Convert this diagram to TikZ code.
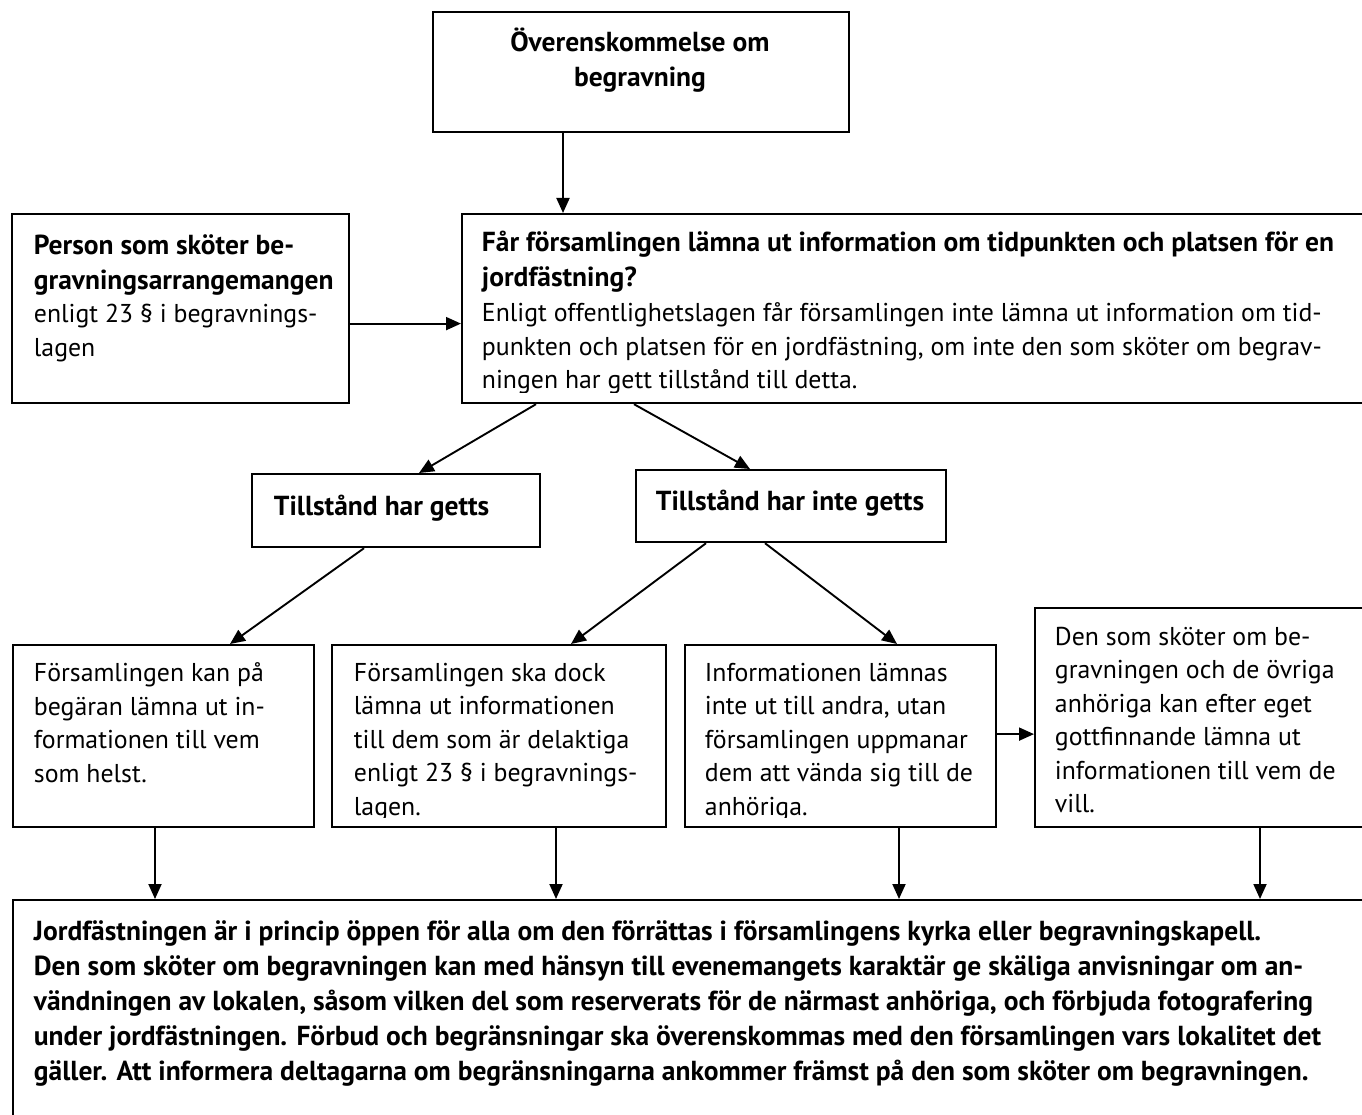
\documentclass[tikz,border=0pt]{standalone}
\usepackage{fontspec}
\setmainfont{PT Sans}
\usepackage{tikz}
\usetikzlibrary{arrows.meta, positioning}

\newcommand\boldline[1]{{\fontsize{27.5}{35}\selectfont\bfseries #1}}

\begin{document}
\begin{tikzpicture}[x=1pt,y=-1pt,->,>={Triangle[length=15pt,width=13pt]},
  line width=1.9pt,
  frame/.style={draw,line width=2.2pt,anchor=north west,inner sep=0pt,-},
  body/.style={anchor=north west,inner sep=0pt,align=left,
    font=\fontsize{25.8}{33.5}\selectfont},
  head/.style={body,font=\fontsize{27.5}{35}\selectfont\bfseries}]

  \useasboundingbox (0,0) rectangle (1362,1115);

  % boxes
  \node[frame,minimum width=416pt,minimum height=120pt] (agree) at (432,11) {};
  \node[frame,minimum width=337pt,minimum height=189pt] (person) at (11,213) {};
  \node[frame,minimum width=960pt,minimum height=189pt] (query) at (461,213) {};
  \node[frame,minimum width=288pt,minimum height=73pt] (given) at (251,473) {};
  \node[frame,minimum width=310pt,minimum height=72pt] (denied) at (635,469) {};
  \node[frame,minimum width=301pt,minimum height=182pt] (may) at (12,644) {};
  \node[frame,minimum width=334pt,minimum height=182pt] (must) at (331,644) {};
  \node[frame,minimum width=311pt,minimum height=182pt] (refer) at (684,644) {};
  \node[frame,minimum width=400pt,minimum height=219pt] (kin) at (1034,607) {};
  \node[frame,minimum width=1400pt,minimum height=300pt] (final) at (12,899) {};

  % texts
  \node[head,anchor=north,align=center] (agreetxt) at (640,27)
    {Överenskommelse om\\begravning};
  \node[body] (persontxt) at (33,234)
    {\boldline{Person som sköter be-}\\[1pt]\boldline{gravningsarrangemangen}\\
     enligt 23 § i begravnings-\\lagen};
  \begin{scope}
    \clip (query.north west) rectangle ([yshift=12pt]query.south east);
    \node[body] (querytxt) at (481,230)
      {\boldline{Får församlingen lämna ut information om tidpunkten och platsen för en}\\[1.5pt]
       \boldline{jordfästning?}\\[2pt]
       Enligt offentlighetslagen får församlingen inte lämna ut information om tid-\\
       punkten och platsen för en jordfästning, om inte den som sköter om begrav-\\
       ningen har gett tillstånd till detta.};
  \end{scope}
  \node[head] (giventxt) at (273,494) {Tillstånd har getts};
  \node[head] (deniedtxt) at (655,489) {Tillstånd har inte getts};
  \node[body] (maytxt) at (33,662)
    {Församlingen kan på\\begäran lämna ut in-\\formationen till vem\\som helst.};
  \begin{scope}
    \clip (must.north west) rectangle ([yshift=11pt]refer.south east);
    \node[body] (musttxt) at (353,662)
      {Församlingen ska dock\\lämna ut informationen\\till dem som är delaktiga\\
       enligt 23 § i begravnings-\\lagen.};
    \node[body] (refertxt) at (704,662)
      {Informationen lämnas\\inte ut till andra, utan\\församlingen uppmanar\\
       dem att vända sig till de\\anhöriga.};
  \end{scope}
  \node[body] (kintxt) at (1054,626)
    {Den som sköter om be-\\gravningen och de övriga\\anhöriga kan efter eget\\
     gottfinnande lämna ut\\informationen till vem de\\vill.};
  \node[head] (finaltxt) at (33,920)
    {Jordfästningen är i princip öppen för alla om den förrättas i församlingens kyrka eller begravningskapell.\\
     Den som sköter om begravningen kan med hänsyn till evenemangets karaktär ge skäliga anvisningar om an-\\
     vändningen av lokalen, såsom vilken del som reserverats för de närmast anhöriga, och förbjuda fotografering\\
     under jordfästningen. Förbud och begränsningar ska överenskommas med den församlingen vars lokalitet det\\
     gäller. Att informera deltagarna om begränsningarna ankommer främst på den som sköter om begravningen.};

  % connectors
  \draw ([xshift=131pt]agree.south west) -- ([xshift=102pt]query.north west);
  \draw ([yshift=-15pt]person.east) -- ([yshift=-15pt]person.east -| query.west);
  \draw ([xshift=75pt]query.south west) -- ([xshift=168pt]given.north west);
  \draw ([xshift=173pt]query.south west) -- ([xshift=115pt]denied.north west);
  \draw ([xshift=113pt]given.south west) -- ([xshift=218pt]may.north west);
  \draw ([xshift=71pt]denied.south west) -- ([xshift=240pt]must.north west);
  \draw ([xshift=130pt]denied.south west) -- ([xshift=213pt]refer.north west);
  \draw ([yshift=2pt]refer.east) -- ([yshift=2pt]refer.east -| kin.west);
  \draw ([xshift=143pt]may.south west) -- ([xshift=143pt]final.north west);
  \draw ([xshift=225pt]must.south west) -- ([xshift=544pt]final.north west);
  \draw ([xshift=215pt]refer.south west) -- ([xshift=887pt]final.north west);
  \draw ([xshift=226pt]kin.south west) -- ([xshift=1248pt]final.north west);
\end{tikzpicture}
\end{document}
